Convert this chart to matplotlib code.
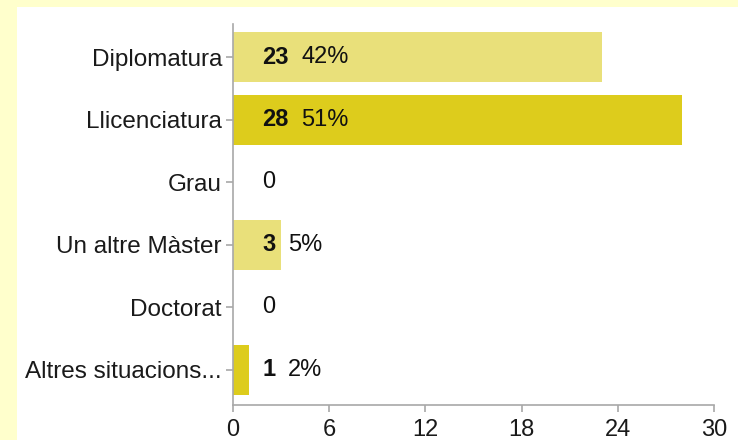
import matplotlib
matplotlib.use("Agg")
import matplotlib.pyplot as plt
from matplotlib.patches import Rectangle

categories = ["Diplomatura", "Llicenciatura", "Grau", "Un altre Màster", "Doctorat", "Altres situacions..."]
counts = [23, 28, 0, 3, 0, 1]
percents = ["42%", "51%", "", "5%", "", "2%"]
xticks = [0, 6, 12, 18, 24, 30]

LIGHT = "#E9E07A"
DARK = "#DDCC1C"
bar_colors = [LIGHT, DARK, LIGHT, LIGHT, DARK, DARK]

plt.rcParams['font.family'] = ['Liberation Sans', 'DejaVu Sans']

W, H = 738, 440
fig = plt.figure(figsize=(W / 100, H / 100), dpi=100, facecolor="#FFFFCC")
fig.add_artist(Rectangle((17 / W, 0), 1, (H - 7) / H, transform=fig.transFigure,
                         facecolor="white", edgecolor="none", zorder=0))

ax = fig.add_axes([233 / W, (H - 405) / H, 481 / W, (405 - 24) / H])
ax.set_facecolor("none")

ypos = list(range(len(categories)))
ax.barh(ypos, counts, height=0.8, color=bar_colors, edgecolor="none", zorder=2)

ax.set_xlim(0, 30)
ax.set_ylim(5.56, -0.53)
ax.set_xticks(xticks)
ax.set_xticklabels([str(t) for t in xticks])
ax.set_yticks(ypos)
ax.set_yticklabels(categories)

for s in ["top", "right"]:
    ax.spines[s].set_visible(False)
for s in ["left", "bottom"]:
    ax.spines[s].set_color("#a8a8a8")
    ax.spines[s].set_linewidth(1.2)

ax.tick_params(axis="both", colors="#a8a8a8", length=5, width=1.2, labelcolor="#1a1a1a")
ax.tick_params(axis="y", labelsize=17.5, pad=3)
ax.tick_params(axis="x", labelsize=17, pad=5)

for i, (c, p) in enumerate(zip(counts, percents)):
    if c == 0:
        ax.annotate("0", xy=(0, i), xytext=(29, 0), textcoords="offset pixels",
                    ha="left", va="center", fontsize=17, color="#111111")
        continue
    t = ax.annotate(str(c), xy=(0, i), xytext=(29, 0), textcoords="offset pixels",
                    ha="left", va="center", fontsize=17, fontweight="bold", color="#111111")
    ax.annotate(p, xy=(1, 0.5), xycoords=t, xytext=(13, 0), textcoords="offset pixels",
                ha="left", va="center", fontsize=17, color="#111111")

fig.savefig("out.png", dpi=100, facecolor=fig.get_facecolor())
